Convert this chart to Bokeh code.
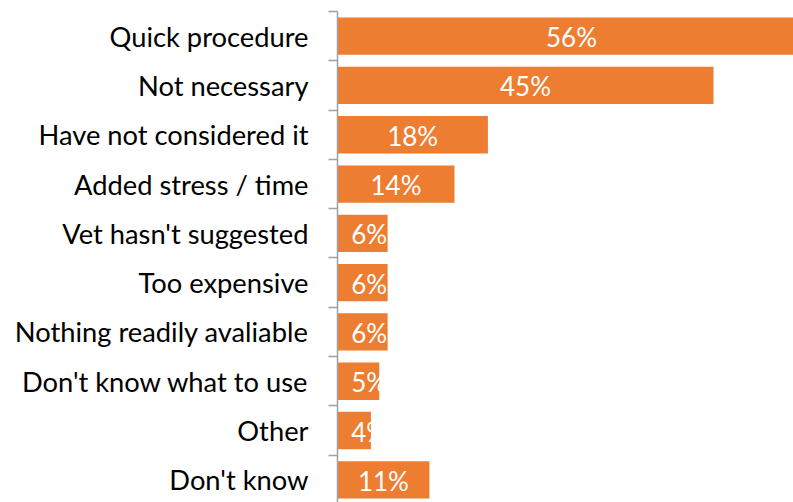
from bokeh.plotting import figure
from bokeh.models import Range1d, FixedTicker, ColumnDataSource
from bokeh.core.properties import value
from bokeh.embed import file_html
from bokeh.resources import INLINE

categories = ["Quick procedure", "Not necessary", "Have not considered it",
              "Added stress / time", "Vet hasn't suggested", "Too expensive",
              "Nothing readily avaliable", "Don't know what to use", "Other",
              "Don't know"]
values = [56, 45, 18, 14, 6, 6, 6, 5, 4, 11]
labels = [f"{v}%" for v in values]

pos = [i + 0.5 for i in range(len(categories))]
label_x = [max(v / 2, 3.8) for v in values]

src = ColumnDataSource(dict(y=pos, v=values, lx=label_x, lab=labels))

p = figure(width=793, height=502, output_backend="svg", toolbar_location=None,
           x_range=Range1d(0, 54.57), y_range=Range1d(9.96, 0),
           min_border_left=337, min_border_right=0, min_border_top=11,
           min_border_bottom=0)
p.outline_line_color = None
p.xgrid.visible = False
p.ygrid.visible = False
p.xaxis.visible = False
p.background_fill_color = "white"
p.border_fill_color = "white"

p.hbar(y="y", left=0, right="v", height=0.757, source=src,
       fill_color="#ED7D31", line_color=None)
p.text(x="lx", y="y", text="lab", source=src, text_color="white",
       text_font=value("Lato"), text_font_size="26px",
       text_align="center", text_baseline="middle", y_offset=1)

yax = p.yaxis[0]
yax.ticker = FixedTicker(ticks=pos, minor_ticks=list(range(len(categories) + 1)))
yax.major_label_overrides = {p_: c for p_, c in zip(pos, categories)}
yax.major_tick_line_color = None
yax.major_tick_out = 0
yax.major_tick_in = 0
yax.minor_tick_out = 9
yax.minor_tick_in = 0
yax.minor_tick_line_color = "#a0a0a0"
yax.minor_tick_line_width = 1.5
yax.axis_line_color = "#a0a0a0"
yax.axis_line_width = 1.5
yax.major_label_standoff = 20
yax.major_label_text_font = "Lato"
yax.major_label_text_font_size = "27.3px"
yax.major_label_text_color = "black"

open("out.html", "w").write(file_html(p, INLINE))
